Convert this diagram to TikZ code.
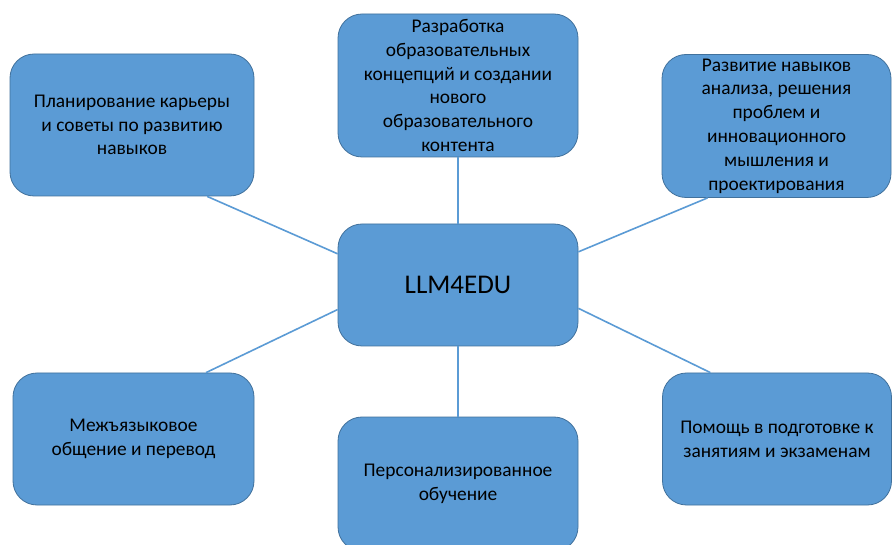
\documentclass[tikz,border=0pt]{standalone}
\usepackage{fontspec}
\setmainfont{Carlito}
\usetikzlibrary{calc}
\definecolor{boxfill}{HTML}{5B9BD5}
\definecolor{boxline}{HTML}{41719C}
\definecolor{conn}{HTML}{5B9BD5}
\begin{document}
\begin{tikzpicture}[x=1pt,y=-1pt,
  topic/.style={draw=boxline, line width=0.8pt, fill=boxfill, rounded corners=24pt,
    align=center, inner sep=0pt, text=black, font=\fontsize{19.4}{23.8}\selectfont},
  hub/.style={topic, font=\fontsize{27}{32}\selectfont},
  link/.style={draw=conn, line width=1.6pt}]
\clip (0,0) rectangle (892,545);
\fill[white] (0,0) rectangle (892,545);
\node[hub, minimum width=240pt, minimum height=122pt] (c) at (458,285) {LLM4EDU};
\node[topic, minimum width=244pt, minimum height=142pt] (tl) at (132,125)
  {Планирование карьеры\\и советы по развитию\\навыков};
\node[topic, minimum width=240pt, minimum height=143pt] (top) at (458,85.5)
  {Разработка\\образовательных\\концепций и создании\\нового\\образовательного\\контента};
\node[topic, minimum width=229pt, minimum height=143pt] (tr) at (776.5,126)
  {Развитие навыков\\анализа, решения\\проблем и\\инновационного\\мышления и\\проектирования};
\node[topic, minimum width=241pt, minimum height=132pt] (bl) at (133.5,439)
  {Межъязыковое\\общение и перевод};
\node[topic, minimum width=240pt, minimum height=134pt] (bot) at (458,484)
  {Персонализированное\\обучение};
\node[topic, minimum width=229pt, minimum height=132pt] (br) at (777,439)
  {Помощь в подготовке к\\занятиям и экзаменам};
\coordinate (tlA) at ($(tl.south west)!0.807!(tl.south east)$);
\coordinate (tlB) at ($(c.north west)!0.246!(c.south west)$);
\coordinate (trA) at ($(tr.south west)!0.2!(tr.south east)$);
\coordinate (trB) at ($(c.north east)!0.23!(c.south east)$);
\coordinate (blA) at ($(bl.north west)!0.8!(bl.north east)$);
\coordinate (blB) at ($(c.north west)!0.70!(c.south west)$);
\coordinate (brA) at ($(br.north west)!0.21!(br.north east)$);
\coordinate (brB) at ($(c.north east)!0.69!(c.south east)$);
\draw[link] (tlA) -- (tlB);
\draw[link] (trA) -- (trB);
\draw[link] (blA) -- (blB);
\draw[link] (brA) -- (brB);
\draw[link] (top.south) -- (c.north);
\draw[link] (c.south) -- (bot.north);
\end{tikzpicture}
\end{document}
